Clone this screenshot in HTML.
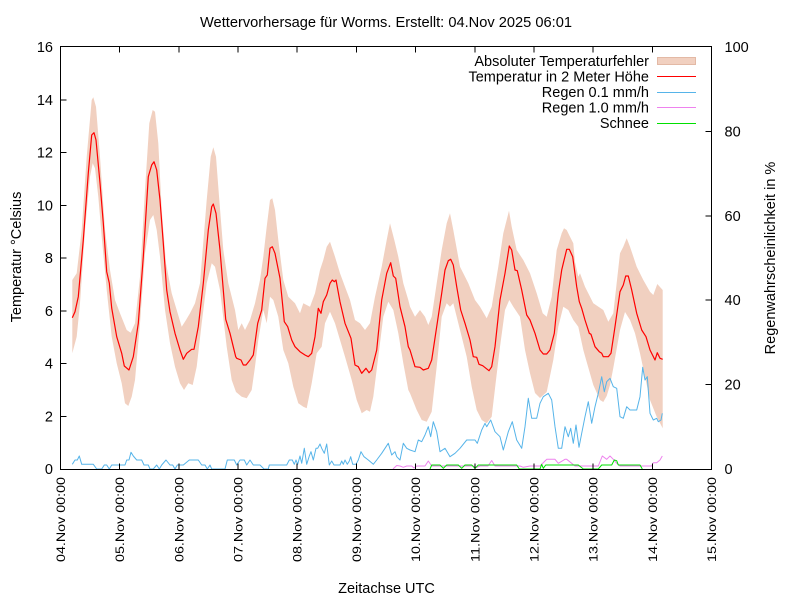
<!DOCTYPE html>
<html><head><meta charset="utf-8"><style>
html,body{margin:0;padding:0;background:#fff;}
svg{display:block;font-family:"Liberation Sans","DejaVu Sans",sans-serif;}
</style></head><body>
<svg width="800" height="600" viewBox="0 0 800 600" xmlns="http://www.w3.org/2000/svg">
<rect width="800" height="600" fill="#fff"/>
<!-- band -->
<polygon fill="#f1d0c0" points="72.3,280 76.7,273.3 81.7,230 86.7,156.7 91.7,100 93.3,97.3 96,106.7 100,156.7 105,230 110,270 115,300 120,313.3 126.7,330 130.7,332.7 135,323.3 140,276.7 145,190 149.3,123.3 152.7,110 155,111.7 158.3,143.3 161.7,210 166,263.3 171.7,293.3 176.7,310 181.7,326.7 186,320 190,313.3 195,303.3 200,283.3 206.7,200 210.7,156.7 213.3,147.3 216,156.7 219.3,200 223.3,250 228.3,283.3 235,310 238.3,330 241.7,323.3 245,330 250,320 255,303.3 260,280 263.3,256.7 266.7,226.7 270,200 272.3,198.3 275,210 278.3,240 283.3,280 288.3,296.7 295,303.3 300,313.3 303.3,303.3 310,306.7 315,293.3 320,270 323.3,260 326.7,246.7 330,241.7 335,256.7 340,273.3 345,286.7 350,300 355,320 360,323.3 365,330 370,323.3 375,296.7 381.7,266.7 386.7,240 390,223.3 394.3,240 398.3,256.7 403.3,283.3 408.3,300 410,306.7 415,316.7 420,310 425,316.7 428.3,325 431.7,316.7 436.7,283.3 441.7,250 446.7,223.3 450,213.3 453.3,230 460,266.7 468.3,283.3 475,300 480,306.7 486.7,318.3 491.7,306.7 498.3,266.7 503.3,233.3 509,210.7 511.7,226.7 516.7,250 523.3,260 530,273.3 536.7,293.3 542.7,313.3 546.7,316.7 551.7,296.7 556.7,250 561.7,233.3 564,228.3 566.7,230 570,236.7 573.3,243.3 575,262 578.3,276.7 580,273.3 585,286.7 593.3,303.3 603.3,310 608.3,321.7 613.3,313.3 620,253.3 623.3,246.7 626.7,238.3 630,246.7 636.7,266.7 643.3,280 650,291.7 653.3,295 657.3,284 662.7,290 662.7,428.3 656.7,416.7 650,400 645,376.7 640,353.3 635,333.3 630,320 625,312 620,330 613.3,368 610,385 606.7,396 603.3,402 600,400 593.3,385 586.7,362 583.3,350 578.3,326.7 573.3,320 568.3,310 563.3,306.7 558.3,326.7 553.3,360 546.7,392 540,398 535,393 530,373.3 525,350 520,316.7 513.3,306.7 509.3,300 505,310 500,346.7 496,380 491.7,416.7 486.7,423.3 481.7,420 476.7,410 471.7,386.7 466.7,356.7 460,330 453.3,303.3 450,306.7 446.7,303.3 441.7,316.7 436.7,366.7 431.7,411.7 426.7,421.7 421.7,420 416.7,410 410,393.3 408.3,390 403.3,363.3 398.3,333.3 393.3,310 388.3,301.7 383.3,316.7 378.3,356.7 373.3,396.7 370,411.7 366.7,410 361.7,413.3 356.7,400 351.7,380 345,356.7 340,340 335,323.3 330,311.7 325,323.3 321.7,346.7 316.7,353.3 311.7,383.3 306.7,408.3 303.3,406.7 298.3,403.3 293.3,386.7 288.3,363.3 283.3,350 278.3,316.7 273.3,300 270,296.7 266.7,323.3 263.3,310 258.3,340 255,366.7 251.7,390 246.7,398.3 241.7,396.7 236,392 231.7,380 226.7,346.7 220,290 215,266.7 211.7,263.3 206.7,283.3 201.7,323.3 196.7,366.7 192.7,385 188.3,383.3 184,390 180,383.3 175,366.7 170,343.3 165,310 160,256.7 156.7,230 153.3,215 150,220 145,253.3 140,323.3 135,380 131.7,396.7 128.3,406 125,403.3 121.7,383.3 116.7,363.3 111.7,336.7 106.7,290 101.7,236.7 98.3,196.7 95,168.3 92.7,163.3 90,176.7 85,230 80,303.3 76.7,336.7 72.3,353.3"/>
<!-- temperature -->
<polyline fill="none" stroke="#ff0000" stroke-width="1.2" stroke-linejoin="round" points="72.3,317.7 75,311.7 78.3,296.7 83.3,240 88.3,173 91.7,135 94,132.7 96,140 100,183 103.3,223 106.7,271.7 109.3,283 111.7,308 116.7,336.7 121.7,353.3 124.3,366 129,370 133.3,356.7 138.3,323.3 143.3,256.7 148.3,176.7 151.7,165 154,161.7 156.7,170 160,200 163.3,243.3 166.7,290 170,311.7 175,333.3 180,350 183.3,359.3 186.7,353.3 191.7,349.3 194,349.3 198.3,326.7 203.3,283.3 208.3,230 211.7,206.7 213.3,204 216,213.3 220,250 225.7,319.3 230,333.3 235.7,356.7 236.7,358.3 241,360 243.3,365 246,365 250,360 253.3,355 257.7,323.3 261.7,310 265,278.3 267.3,275 270,248.3 272.3,246.7 275,253.3 280,278.3 284.3,321.7 287.7,326.7 291.7,340 295,346.7 300,351.7 305,355 308.3,356.7 311.7,353.3 315,336.7 318.3,308.3 321,313.3 323.3,301.7 326.7,295 330,283.3 332.3,280 334.3,281.7 336,280 340,301.7 345,323.3 351,338.3 355,365 358.3,366.7 361.7,373.3 366,368.3 369,372.7 371.7,370 376.7,350 381.7,300 386.7,273.3 390.7,262.7 393.3,276 395.7,278.3 400,306.7 405,326.7 408.3,346.7 410,350 415,366.7 420,367.3 423.3,370 428.3,368.3 431.7,360 436.7,326.7 441.7,293.3 445,270 448.3,260.7 450.7,259.3 453.3,265 456.7,286.7 460.7,310 465,323.3 470,340 473.3,356.7 476.7,357.3 479,364.3 482.7,365.7 486,368.3 489,370.7 491.7,366.7 495,346.7 500,300 505,273.3 509.3,246 511.7,250 515,270 517.3,270.7 521.7,290 526.7,315 530,320 535,333.3 540,350 543.3,354 546.7,354 550,350 554.3,333.3 558.3,293.3 561.7,270 563.3,263.3 566.7,249.3 569.3,249.3 572.7,256.7 576.7,286.7 579.3,301.7 581.7,308.3 585,320 589.3,333.3 591,334.3 595,346.7 599.3,351.7 601.7,353.3 603.3,356.7 608.3,356.7 611,353.3 615,326.7 620,291.7 623.3,285 625.7,276 628.3,276 631.7,290 636.7,313.3 641.7,330 646,336.7 650,350 655,360 657.3,352.7 660,358.3 662.7,359.3"/>
<!-- rain 0.1 -->
<polyline fill="none" stroke="#56b4e9" stroke-width="1" stroke-linejoin="round" points="72.3,464.3 75,460 77.3,460 79.3,456 81.7,464.3 93.3,464.3 96.7,469 101.7,469 104.3,465 106.7,465 109.3,469 111.7,465 125,465 126.7,460 129,460 131,452.3 133.3,456 136.7,460 141.7,460 144,465 148.3,465 150,469 153.3,469 156.7,465 159.3,469 161.7,465 166,460 170,465 172.7,465 175,469 177.3,465 183.3,465 189.3,460 198.3,460 201.7,465 205,465 207.3,469 210,465 211.7,469 225,469 227.3,460 234.3,460 236.7,465 240,460 244.3,460 246.7,465 250,460 253.3,465 260,465 264,469 268.3,469 269.3,465 286.7,465 289.3,460 292.3,460 294.3,464.3 296,460 297.7,464.3 300,456 301.7,463.3 304.3,448.3 306.7,464.3 309.3,456 311,451.7 313.3,460 316,448.3 317.7,448.3 320,444 321.7,448.3 324.3,453.3 326.7,444 329.3,465 331.7,461 334,465 340,465 341.7,461 343.3,464.3 345,460 347.3,464.3 349.3,461 350.7,456.7 352.7,464.3 356,464.3 358.3,460 361,451.7 364,456.7 368.3,460 373.3,464.3 376.7,460 381.7,453.3 388.3,443.3 391.7,455 395,451.7 396.7,456.7 400,460 403.3,443.3 406.7,448.3 410,450 415,451.7 418.3,440 421.7,441.7 425,435 428.3,426.7 430.7,436.7 433.3,421.7 436.7,431.7 440,451.7 445,448.3 450,456.7 455,453.3 460,448.3 466.7,440 475,440 477.3,443.3 481.7,430 485,423.3 486.7,426.7 490.7,420 495,431.7 500,436.7 503.3,450 508.3,431.7 512.3,421.7 516.7,440 521.7,448.3 525,426.7 528.3,398.3 531.7,418.3 536.7,418.3 540,403.3 543.3,396.7 548.3,393.3 551.7,400 555,426.7 558.3,448.3 561.7,448.3 565,426.7 568.3,436.7 570.7,428.3 573.3,443.3 576,425 579,447.3 581.7,433.3 585,416.7 588.3,401.7 591.7,423.3 595,406.7 598.3,393.3 601.7,376.7 604.3,391.7 606.7,381.7 610,378.3 613.3,386.7 616.7,388.3 620,416.7 623.3,418.3 626.7,406.7 630,410 636.7,410 640,396.7 642.7,367.3 645,380 647.3,376.7 650,413.3 653.3,420 656.7,418.3 658.3,421.7 661,420 662.3,413.3"/>
<!-- rain 1.0 -->
<polyline fill="none" stroke="#ee82ee" stroke-width="1" stroke-linejoin="round" points="393,469 396.7,465.5 400,466 403.3,467.3 406.7,466 411.7,466 414,468 416.7,466 425,466 428.3,461 431.7,466 441.7,466 473.3,466 476,467.5 480,466 488,466 491.7,460.5 495,466 520,466 523.3,467.3 530,466 540,466 545,461 546.7,459.3 555,459.3 558.3,463.3 565,459.3 566.7,459.3 571.7,463.3 575,466 598.3,466 602.3,456 606.7,459.3 610,456 613.3,459.3 616.7,463.3 620,466 651.7,466 653.3,462.7 656.7,462.7 660,460 662.3,456"/>
<!-- snow -->
<polyline fill="none" stroke="#00e000" stroke-width="1" stroke-linejoin="round" points="430,469 431.7,465 440,465 443.3,468.3 446.7,465 458.3,465 461.7,468.3 465,465 471.7,465 475,468.3 478.3,465 516.7,465 519.3,469 540,469 541.7,464.3 543.3,468.3 545.7,465 578.3,465 583.3,469 598.3,469 601.7,465 611.7,465 614.3,460 616.7,460.7 618.3,465 640,465 642.3,469"/>
<!-- axes -->
<g stroke="#000" stroke-width="1" shape-rendering="crispEdges" fill="none">
<rect x="60.5" y="46.5" width="651" height="423"/>
<path d="M60.5 99.75h6M60.5 152.5h6M60.5 205.25h6M60.5 258h6M60.5 310.75h6M60.5 363.5h6M60.5 416.25h6"/>
<path d="M711.5 131.4h-6M711.5 215.8h-6M711.5 300.2h-6M711.5 384.6h-6"/>
<path d="M119.7 469.5v-6M178.9 469.5v-6M238 469.5v-6M297.2 469.5v-6M356.4 469.5v-6M415.6 469.5v-6M474.8 469.5v-6M533.9 469.5v-6M593.1 469.5v-6M652.3 469.5v-6"/>
<path d="M119.7 46.5v6M178.9 46.5v6M238 46.5v6M297.2 46.5v6M356.4 46.5v6M415.6 46.5v6M474.8 46.5v6M533.9 46.5v6M593.1 46.5v6M652.3 46.5v6"/>
</g>
<g font-size="14.5" fill="#000">
<text x="386" y="27" text-anchor="middle" textLength="372" lengthAdjust="spacingAndGlyphs">Wettervorhersage für Worms. Erstellt: 04.Nov 2025 06:01</text>
<g text-anchor="end">
<text x="53" y="52">16</text>
<text x="53" y="104.8">14</text>
<text x="53" y="157.5">12</text>
<text x="53" y="210.3">10</text>
<text x="53" y="263">8</text>
<text x="53" y="315.8">6</text>
<text x="53" y="368.5">4</text>
<text x="53" y="421.3">2</text>
<text x="53" y="474">0</text>
</g>
<g text-anchor="start">
<text x="724.5" y="52">100</text>
<text x="724.5" y="136.4">80</text>
<text x="724.5" y="220.8">60</text>
<text x="724.5" y="305.2">40</text>
<text x="724.5" y="389.6">20</text>
<text x="724.5" y="474">0</text>
</g>
<text transform="translate(21,257) rotate(-90)" text-anchor="middle">Temperatur °Celsius</text>
<text transform="translate(775,258) rotate(-90)" text-anchor="middle">Regenwahrscheinlichkeit in %</text>
<text x="386.5" y="593" text-anchor="middle">Zeitachse UTC</text>
<g text-anchor="end">
<text x="649" y="66">Absoluter Temperaturfehler</text>
<text x="649" y="81.5">Temperatur in 2 Meter Höhe</text>
<text x="649" y="97">Regen 0.1 mm/h</text>
<text x="649" y="112.5">Regen 1.0 mm/h</text>
<text x="649" y="128">Schnee</text>
</g>
</g>
<rect x="657.5" y="57.5" width="38" height="7" fill="#f1d0c0" stroke="#e3b9a5" stroke-width="1"/>
<g stroke-width="1" shape-rendering="crispEdges">
<line x1="657" y1="76.5" x2="696" y2="76.5" stroke="#ff0000"/>
<line x1="657" y1="92.5" x2="696" y2="92.5" stroke="#56b4e9"/>
<line x1="657" y1="107.5" x2="696" y2="107.5" stroke="#ee82ee"/>
<line x1="657" y1="123.5" x2="696" y2="123.5" stroke="#00e000"/>
</g>
<g font-size="12.2" fill="#000" text-anchor="end">
<text transform="translate(65,477) rotate(-90)" textLength="85" lengthAdjust="spacingAndGlyphs">04.Nov 00:00</text>
<text transform="translate(124.2,477) rotate(-90)" textLength="85" lengthAdjust="spacingAndGlyphs">05.Nov 00:00</text>
<text transform="translate(183.4,477) rotate(-90)" textLength="85" lengthAdjust="spacingAndGlyphs">06.Nov 00:00</text>
<text transform="translate(242.5,477) rotate(-90)" textLength="85" lengthAdjust="spacingAndGlyphs">07.Nov 00:00</text>
<text transform="translate(301.7,477) rotate(-90)" textLength="85" lengthAdjust="spacingAndGlyphs">08.Nov 00:00</text>
<text transform="translate(360.9,477) rotate(-90)" textLength="85" lengthAdjust="spacingAndGlyphs">09.Nov 00:00</text>
<text transform="translate(420.1,477) rotate(-90)" textLength="85" lengthAdjust="spacingAndGlyphs">10.Nov 00:00</text>
<text transform="translate(479.3,477) rotate(-90)" textLength="85" lengthAdjust="spacingAndGlyphs">11.Nov 00:00</text>
<text transform="translate(538.4,477) rotate(-90)" textLength="85" lengthAdjust="spacingAndGlyphs">12.Nov 00:00</text>
<text transform="translate(597.6,477) rotate(-90)" textLength="85" lengthAdjust="spacingAndGlyphs">13.Nov 00:00</text>
<text transform="translate(656.8,477) rotate(-90)" textLength="85" lengthAdjust="spacingAndGlyphs">14.Nov 00:00</text>
<text transform="translate(716,477) rotate(-90)" textLength="85" lengthAdjust="spacingAndGlyphs">15.Nov 00:00</text>
</g>
</svg>
</body></html>
